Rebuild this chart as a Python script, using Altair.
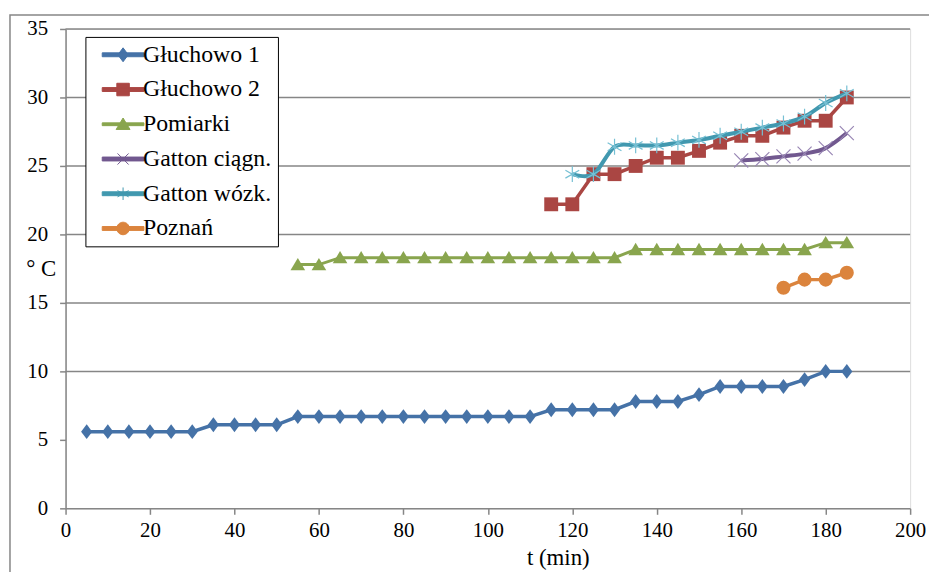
import altair as alt
import pandas as pd

# ---------------- data ----------------
series_names = ["Głuchowo 1", "Głuchowo 2", "Pomiarki", "Gatton ciągn.", "Gatton wózk.", "Poznań"]

t_g1 = [5, 10, 15, 20, 25, 30, 35, 40, 45, 50, 55, 60, 65, 70, 75, 80, 85, 90, 95,
        100, 105, 110, 115, 120, 125, 130, 135, 140, 145, 150, 155, 160, 165, 170,
        175, 180, 185]
v_g1 = [5.6, 5.6, 5.6, 5.6, 5.6, 5.6, 6.1, 6.1, 6.1, 6.1, 6.7, 6.7, 6.7, 6.7, 6.7,
        6.7, 6.7, 6.7, 6.7, 6.7, 6.7, 6.7, 7.2, 7.2, 7.2, 7.2, 7.8, 7.8, 7.8, 8.3,
        8.9, 8.9, 8.9, 8.9, 9.4, 10.0, 10.0]

t_g2 = [115, 120, 125, 130, 135, 140, 145, 150, 155, 160, 165, 170, 175, 180, 185]
v_g2 = [22.2, 22.2, 24.4, 24.4, 25.0, 25.6, 25.6, 26.1, 26.7, 27.2, 27.2, 27.8,
        28.3, 28.3, 30.0]

t_pom = [55, 60, 65, 70, 75, 80, 85, 90, 95, 100, 105, 110, 115, 120, 125, 130,
         135, 140, 145, 150, 155, 160, 165, 170, 175, 180, 185]
v_pom = [17.8, 17.8, 18.3, 18.3, 18.3, 18.3, 18.3, 18.3, 18.3, 18.3, 18.3, 18.3,
         18.3, 18.3, 18.3, 18.3, 18.9, 18.9, 18.9, 18.9, 18.9, 18.9, 18.9, 18.9,
         18.9, 19.4, 19.4]

t_gc = [160, 165, 170, 175, 180, 185]
v_gc = [25.4, 25.5, 25.7, 25.9, 26.3, 27.4]

t_gw = [120, 125, 130, 135, 140, 145, 150, 155, 160, 165, 170, 175, 180, 185]
v_gw = [24.4, 24.4, 26.4, 26.5, 26.5, 26.7, 26.9, 27.2, 27.5, 27.8, 28.1, 28.6,
        29.6, 30.3]

t_pz = [170, 175, 180, 185]
v_pz = [16.1, 16.7, 16.7, 17.2]

x_ticks = [0, 20, 40, 60, 80, 100, 120, 140, 160, 180, 200]
y_ticks = [0, 5, 10, 15, 20, 25, 30, 35]
grid_values = [10, 15, 20, 25, 30, 35]

# ---------------- styles ----------------
line_colors = ["#4572A7", "#AA4643", "#89A54E", "#71588F", "#4198AF", "#DB843D"]
marker_colors = ["#4572A7", "#AA4643", "#89A54E", "#9886B4", "#76C0D4", "#DB843D"]
marker_paths = [
    "M0,-1L0.75,0L0,1L-0.75,0Z",
    "M-1,-1H1V1H-1Z",
    "M0,-1L1.1,0.85H-1.1Z",
    "M-1,-1L1,1M-1,1L1,-1",
    "M0,-1V1M-0.87,-0.5L0.87,0.5M-0.87,0.5L0.87,-0.5",
    "circle",
]
marker_sizes = [225, 196, 180, 200, 256, 200]
marker_filled = [True, True, True, False, False, True]
interps = ["linear", "linear", "linear", "cardinal", "cardinal", "linear"]
line_widths = [3.5, 3.5, 3, 4, 4, 3.5]

legend_paths = [
    "M-0.15,-0.28H5.85V0.28H-0.15Z M2.85,-1L3.6,0L2.85,1L2.1,0Z",
    "M-0.15,-0.28H5.85V0.28H-0.15Z M1.95,-0.9H3.75V0.9H1.95Z",
    "M-0.15,-0.2H5.85V0.2H-0.15Z M2.85,-0.9L3.85,0.75H1.85Z",
    "M-0.15,-0.28H5.85V0.28H-0.15Z M2.05,-0.8L3.65,0.8M2.05,0.8L3.65,-0.8",
    "M-0.15,-0.28H5.85V0.28H-0.15Z M2.85,-0.9V0.9M2.05,-0.45L3.65,0.45M2.05,0.45L3.65,-0.45",
    "M-0.15,-0.28H5.85V0.28H-0.15Z M3.75,0A0.9,0.9,0,1,1,1.95,0A0.9,0.9,0,1,1,3.75,0Z",
]

serif = "Times New Roman, Liberation Serif, DejaVu Serif, serif"
axis_grey = "#868686"
W, H = 851, 483

# ---------------- frames ----------------
all_t = [t_g1, t_g2, t_pom, t_gc, t_gw, t_pz]
all_v = [v_g1, v_g2, v_pom, v_gc, v_gw, v_pz]
frames = []
for name, ts, vs in zip(series_names, all_t, all_v):
    frames.append(pd.DataFrame({"t": ts, "v": vs, "series": name}))
df_all = pd.concat(frames, ignore_index=True)

xscale = alt.Scale(domain=[0, 200], nice=False, zero=False)
yscale = alt.Scale(domain=[0, 35], nice=False)

x_axis = alt.Axis(values=x_ticks, title="t (min)", grid=False,
                  domainColor=axis_grey, domainWidth=1.5,
                  tickColor=axis_grey, tickWidth=1.5, tickSize=6,
                  labelFont=serif, labelFontSize=21, labelColor="black",
                  labelPadding=5, labelFlush=False,
                  titleFont=serif, titleFontSize=23, titleFontWeight="normal",
                  titleColor="black", titleX=496, titleY=39,
                  titleAlign="center", titleBaseline="top")
y_axis = alt.Axis(values=y_ticks, title="° C", grid=False,
                  domainColor=axis_grey, domainWidth=1.5,
                  tickColor=axis_grey, tickWidth=1.5, tickSize=6,
                  labelFont=serif, labelFontSize=21, labelColor="black",
                  labelPadding=12, labelFlush=False,
                  titleFont=serif, titleFontSize=23, titleFontWeight="normal",
                  titleColor="black", titleAngle=0, titleX=-25, titleY=241,
                  titleAlign="center", titleBaseline="middle")

X = alt.X("t:Q", scale=xscale, axis=x_axis)
Y = alt.Y("v:Q", scale=yscale, axis=y_axis)

layers = []

# outer chart border (decoration)
border = alt.Chart(pd.DataFrame({"a": [0]})).mark_rect(
    fill="white", fillOpacity=0, stroke=axis_grey, strokeWidth=1.5
).encode(x=alt.value(-56), x2=alt.value(W + 60), y=alt.value(-14), y2=alt.value(H + 120))
layers.append(border)

grid = alt.Chart(pd.DataFrame({"v": grid_values})).mark_rule(
    color=axis_grey, strokeWidth=1.5
).encode(y=Y)
layers.append(grid)

for i, name in enumerate(series_names):
    d = frames[i]
    ln = alt.Chart(d).mark_line(color=line_colors[i], strokeWidth=line_widths[i],
                                interpolate=interps[i]).encode(x=X, y=Y)
    pt = alt.Chart(d).mark_point(shape=marker_paths[i], size=marker_sizes[i],
                                 filled=marker_filled[i], color=marker_colors[i],
                                 strokeWidth=1.2, opacity=1).encode(x=X, y=Y)
    layers += [ln, pt]

legend = alt.Legend(title=None, orient="none", legendX=20, legendY=8,
                    strokeColor="black", fillColor="white", padding=6,
                    labelFont=serif, labelFontSize=24, labelColor="black",
                    symbolSize=196, symbolStrokeWidth=1, symbolOpacity=1,
                    labelOffset=28, rowPadding=11, labelLimit=300)

leg_layer = alt.Chart(df_all).mark_point(filled=True, opacity=0, strokeWidth=1).encode(
    x=X, y=Y,
    fill=alt.Fill("series:N", scale=alt.Scale(domain=series_names, range=line_colors), legend=legend),
    stroke=alt.Stroke("series:N", scale=alt.Scale(domain=series_names, range=line_colors), legend=legend),
    shape=alt.Shape("series:N", scale=alt.Scale(domain=series_names, range=legend_paths), legend=legend),
)
layers.append(leg_layer)

chart = alt.layer(*layers).properties(
    width=W, height=H,
    autosize=alt.AutoSizeParams(type="none"),
    padding={"left": 58, "top": 19, "right": 19, "bottom": 62},
).configure_view(stroke=None).configure(background="white").configure_legend(
    labelFont=serif, labelFontSize=24, labelColor="black"
)

chart.save("out.html", embed_options={"renderer": "svg", "actions": False})
